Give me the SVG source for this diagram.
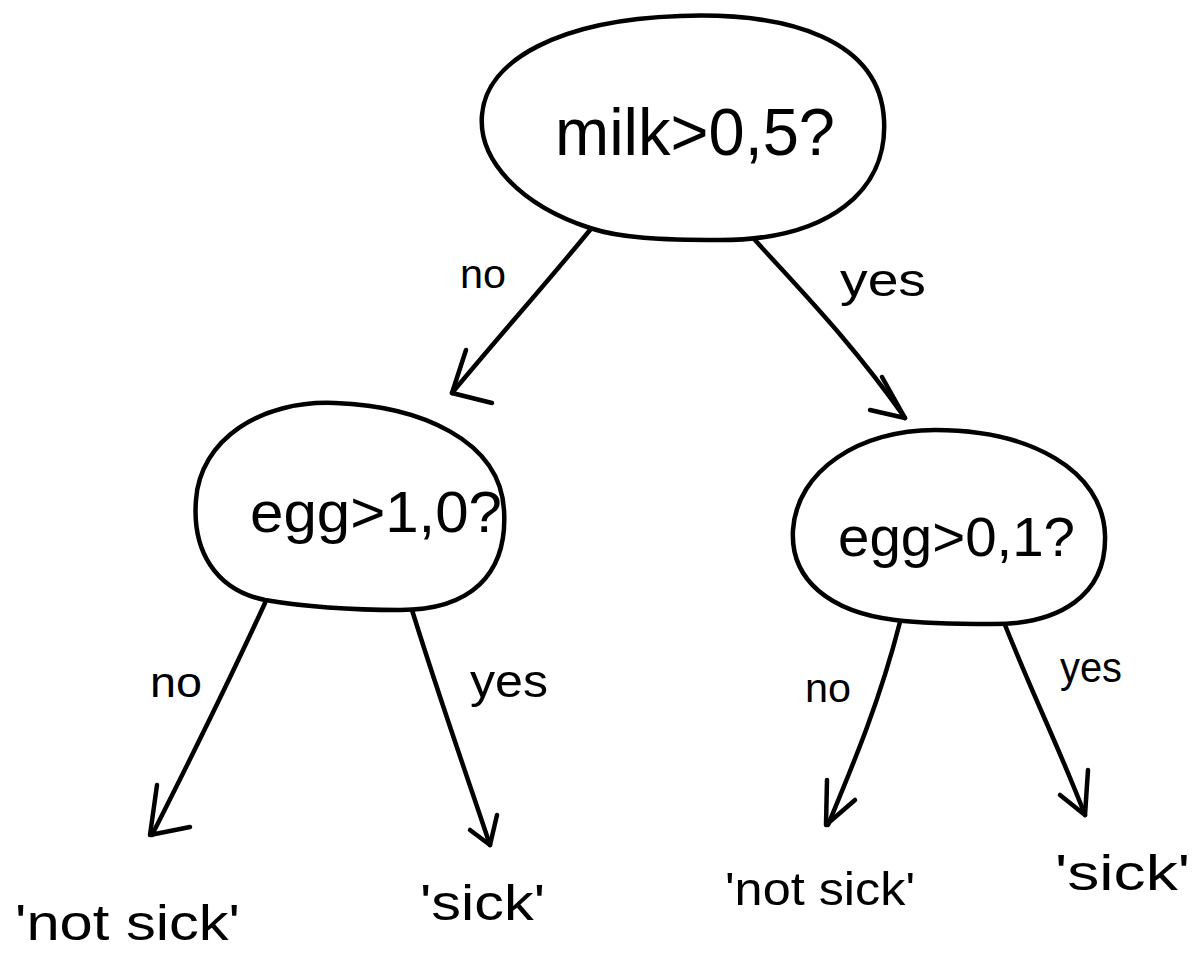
<svg xmlns="http://www.w3.org/2000/svg" width="1193" height="956" viewBox="0 0 1193 956">
<style>
.shape{fill:none;stroke:#000;stroke-width:4.5;stroke-linecap:round;stroke-linejoin:round}
.t{font-family:"Liberation Sans",Arial,sans-serif;fill:#000}
</style>
<rect width="1193" height="956" fill="#fff"/>
<g id="node-root">
<path class="shape" d="M 590,228 C 520,205 478,160 482,115 C 486,60 560,20 680,16 C 790,12 880,40 884,120 C 888,190 830,240 720,240 C 660,240 620,238 590,228 Z"/>
<text class="t" x="555" y="155" font-size="66" textLength="280" lengthAdjust="spacingAndGlyphs">milk&gt;0,5?</text>
</g>
<g id="node-left">
<path class="shape" d="M 265,600 C 215,590 192,550 196,500 C 200,440 260,400 335,403 C 420,406 500,440 504,510 C 508,575 470,610 400,610 C 340,610 300,606 265,600 Z"/>
<text class="t" x="250" y="532" font-size="58" textLength="252" lengthAdjust="spacingAndGlyphs">egg&gt;1,0?</text>
</g>
<g id="node-right">
<path class="shape" d="M 895,620 C 830,612 790,580 793,530 C 797,470 860,430 935,430 C 1030,430 1103,470 1105,535 C 1107,595 1060,625 990,624 C 950,624 920,623 895,620 Z"/>
<text class="t" x="838" y="556" font-size="56" textLength="237" lengthAdjust="spacingAndGlyphs">egg&gt;0,1?</text>
</g>
<g id="leaf-1"><text class="t" x="15" y="940" font-size="50" textLength="225" lengthAdjust="spacingAndGlyphs">'not sick'</text></g>
<g id="leaf-2"><text class="t" x="420" y="920" font-size="50" textLength="125" lengthAdjust="spacingAndGlyphs">'sick'</text></g>
<g id="leaf-3"><text class="t" x="725" y="905" font-size="46" textLength="190" lengthAdjust="spacingAndGlyphs">'not sick'</text></g>
<g id="leaf-4"><text class="t" x="1055" y="890" font-size="50" textLength="135" lengthAdjust="spacingAndGlyphs">'sick'</text></g>
<g id="connectors">
<path class="shape" d="M 590,230 C 545,285 500,335 452,393"/>
<path class="shape" d="M 466,350 L 452,393 L 492,403"/>
<path class="shape" d="M 755,240 C 800,290 850,340 905,418"/>
<path class="shape" d="M 882,377 L 905,418 L 870,410"/>
<path class="shape" d="M 265,603 C 225,690 190,760 152,835"/>
<path class="shape" d="M 157,785 L 150,835 L 190,827"/>
<path class="shape" d="M 412,610 C 440,700 465,770 490,845"/>
<path class="shape" d="M 470,830 L 490,845 L 497,815"/>
<path class="shape" d="M 900,622 C 880,700 855,760 828,825"/>
<path class="shape" d="M 827,780 L 826,825 L 855,800"/>
<path class="shape" d="M 1005,625 C 1035,700 1060,750 1085,815"/>
<path class="shape" d="M 1060,795 L 1085,815 L 1088,770"/>
<text class="t" x="460" y="288" font-size="40" textLength="46" lengthAdjust="spacingAndGlyphs">no</text>
<text class="t" x="840" y="296" font-size="46" textLength="86" lengthAdjust="spacingAndGlyphs">yes</text>
<text class="t" x="150" y="697" font-size="42" textLength="52" lengthAdjust="spacingAndGlyphs">no</text>
<text class="t" x="470" y="697" font-size="46" textLength="78" lengthAdjust="spacingAndGlyphs">yes</text>
<text class="t" x="805" y="702" font-size="40" textLength="46" lengthAdjust="spacingAndGlyphs">no</text>
<text class="t" x="1060" y="682" font-size="42" textLength="62" lengthAdjust="spacingAndGlyphs">yes</text>
</g>
</svg>
